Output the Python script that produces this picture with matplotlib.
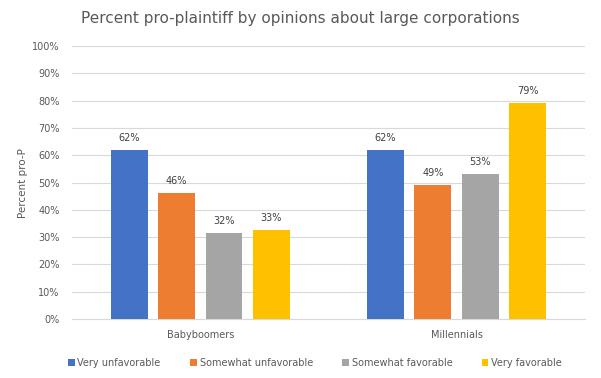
import matplotlib.pyplot as plt
import numpy as np

groups = ["Babyboomers", "Millennials"]
series = ["Very unfavorable", "Somewhat unfavorable", "Somewhat favorable", "Very favorable"]
very_unfav = [62.0, 61.9]
somewhat_unfav = [46.2, 49.1]
somewhat_fav = [31.6, 53.1]
very_fav = [32.6, 79.3]
colors = ["#4472C4", "#ED7D31", "#A5A5A5", "#FFC000"]

TEXT = "#595959"
GRID = "#D9D9D9"

plt.rcParams["font.family"] = "DejaVu Sans"

fig = plt.figure(figsize=(6.01, 3.78), dpi=100)
ax = fig.add_axes([0.12, 0.156, 0.853, 0.722])

x = np.arange(len(groups))
width = 0.144
step = 0.185
values = [very_unfav, somewhat_unfav, somewhat_fav, very_fav]
for i, (name, vals, col) in enumerate(zip(series, values, colors)):
    pos = x + (i - 1.5) * step
    bars = ax.bar(pos, vals, width, color=col, label=name, zorder=3)
    for b, v in zip(bars, vals):
        ax.text(b.get_x() + b.get_width() / 2, v + 2.5, f"{round(v):.0f}%",
                ha="center", va="bottom", fontsize=7, color="#404040")

ax.set_xlim(-0.5, 1.5)
ax.set_ylim(0, 100)
ax.set_yticks(np.arange(0, 101, 10), [f"{t}%" for t in range(0, 101, 10)])
ax.set_xticks(x, groups)
ax.tick_params(axis="both", length=0, colors=TEXT, labelsize=7)
ax.tick_params(axis="x", pad=8)
ax.tick_params(axis="y", pad=9)
ax.grid(axis="y", color=GRID, linewidth=0.8, zorder=0)
for s in ["top", "right", "left"]:
    ax.spines[s].set_visible(False)
ax.spines["bottom"].set_color(GRID)
ax.set_ylabel("Percent pro-P", color=TEXT, fontsize=7.5, labelpad=3)

fig.text(0.5, 0.952, "Percent pro-plaintiff by opinions about large corporations",
         ha="center", va="center", fontsize=11, color=TEXT)

fig.legend(loc="center", bbox_to_anchor=(0.524, 0.04), ncol=4, frameon=False,
           fontsize=7, labelcolor=TEXT, handlelength=0.7, handleheight=0.7,
           handletextpad=0.3, columnspacing=3.0)

fig.savefig("out.png", dpi=100, facecolor="white")
